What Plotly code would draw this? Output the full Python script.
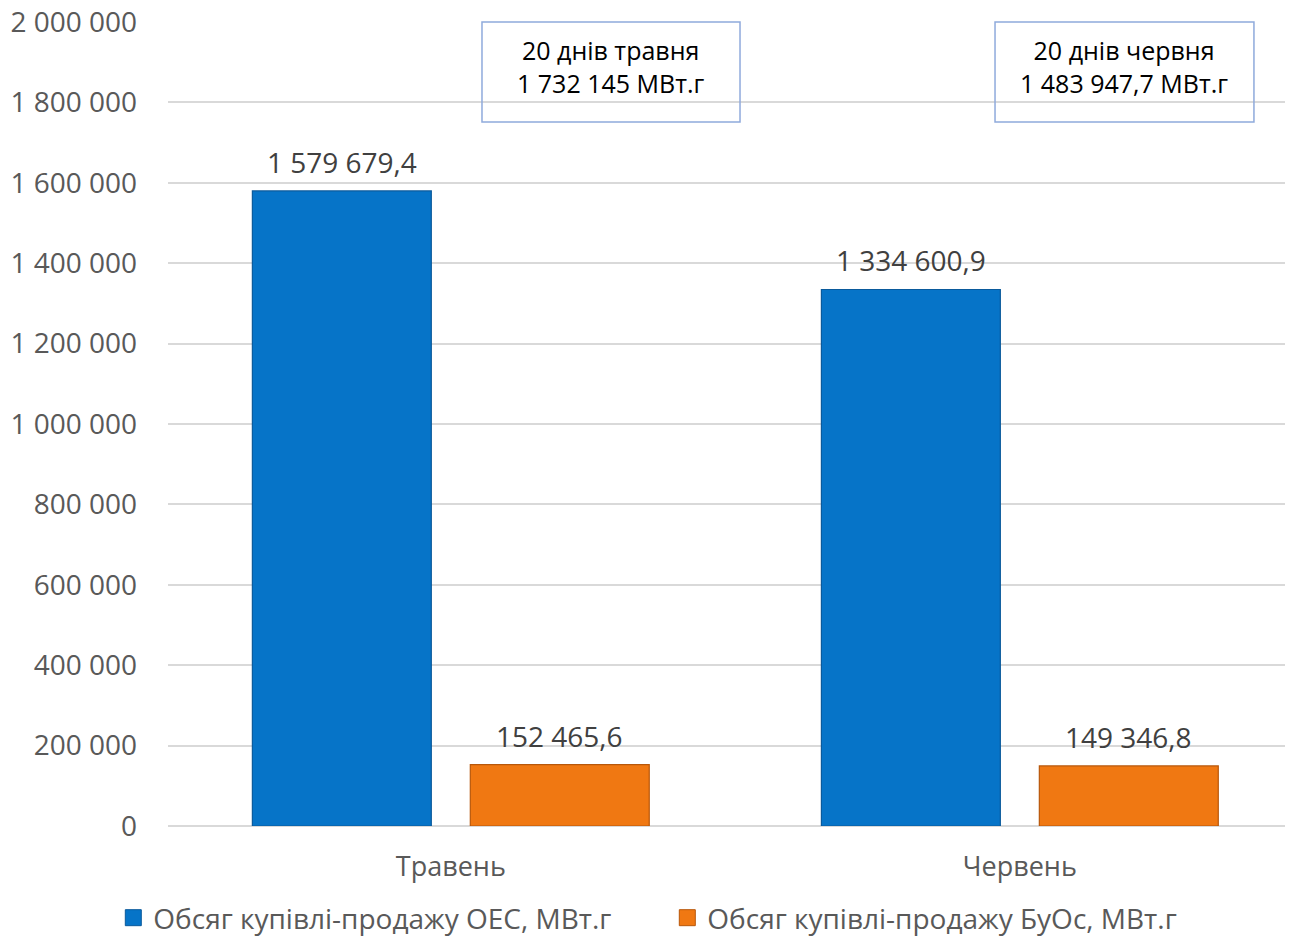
import plotly.graph_objects as go

categories = ["Травень", "Червень"]
oes_values = [1579679.4, 1334600.9]
buos_values = [152465.6, 149346.8]
series_names = ["Обсяг купівлі-продажу ОЕС, МВт.г", "Обсяг купівлі-продажу БуОс, МВт.г"]
box_texts = ["20 днів травня<br>1 732 145 МВт.г", "20 днів червня<br>1 483 947,7 МВт.г"]
tick_values = [0, 200000, 400000, 600000, 800000, 1000000, 1200000, 1400000, 1600000, 1800000, 2000000]

FONT = "Open Sans"
series = [
    (series_names[0], oes_values, "#0674C8", "#0A5A9C", -109),
    (series_names[1], buos_values, "#F07812", "#B8570A", 109),
]

fig = go.Figure()
for name, vals, col, edge, shift in series:
    fig.add_trace(go.Bar(
        x=categories, y=vals, name=name, showlegend=False,
        marker=dict(color=col, line=dict(color=edge, width=1.2)),
        hoverinfo="skip",
    ))
    for cat, v in zip(categories, vals):
        label = f"{v:,.1f}".replace(",", " ").replace(".", ",")
        fig.add_annotation(
            x=cat, y=v, xref="x", yref="y", xshift=shift, yshift=8,
            yanchor="bottom", text=label, showarrow=False,
            font=dict(size=28, color="#404040", family=FONT),
        )
# legend entries with larger square swatches
for name, vals, col, edge, shift in series:
    fig.add_trace(go.Scatter(
        x=[None], y=[None], mode="markers", name=name,
        marker=dict(symbol="square", size=17, color=col, line=dict(color=edge, width=1)),
    ))

fig.update_layout(
    width=1299, height=937,
    margin=dict(l=160, r=22, t=14, b=119, autoexpand=False),
    paper_bgcolor="white", plot_bgcolor="white",
    separators=", ",
    barmode="group", bargap=0.234, bargroupgap=0.179,
    font=dict(family=FONT, color="#595959", size=22),
    showlegend=True,
    legend=dict(orientation="h", x=0.447, xanchor="center", y=-0.1144, yanchor="middle",
                font=dict(size=28, color="#595959", family=FONT),
                itemwidth=30, entrywidth=509, entrywidthmode="pixels"),
    yaxis=dict(range=[0, 2000000], tickvals=tick_values, tickformat=",d",
               showgrid=True, gridcolor="#D9D9D9", gridwidth=1.5,
               zeroline=True, zerolinecolor="#D9D9D9", zerolinewidth=1.5,
               tickfont=dict(size=28, color="#595959"), ticks="", ticklen=0,
               ticklabelstandoff=30, ticklabeloverflow="allow", showline=False),
    xaxis=dict(range=[-0.497, 1.466],
               tickfont=dict(size=27, color="#595959"), showline=False, ticks="",
               ticklabelstandoff=22),
)

box_x0 = [0.2811, 0.7404]
box_x1 = [0.5121, 0.9722]
for x0, x1, txt in zip(box_x0, box_x1, box_texts):
    fig.add_shape(type="rect", xref="paper", yref="paper", x0=x0, x1=x1, y0=0.8756, y1=1.0,
                  line=dict(color="#8FAADC", width=1.5), fillcolor="rgba(0,0,0,0)")
    fig.add_annotation(
        xref="paper", yref="paper", x=(x0 + x1) / 2, y=0.9445, xanchor="center", yanchor="middle",
        text=txt, showarrow=False, align="center",
        font=dict(size=25, color="#000000", family=FONT),
    )

fig.write_html("out.html")
